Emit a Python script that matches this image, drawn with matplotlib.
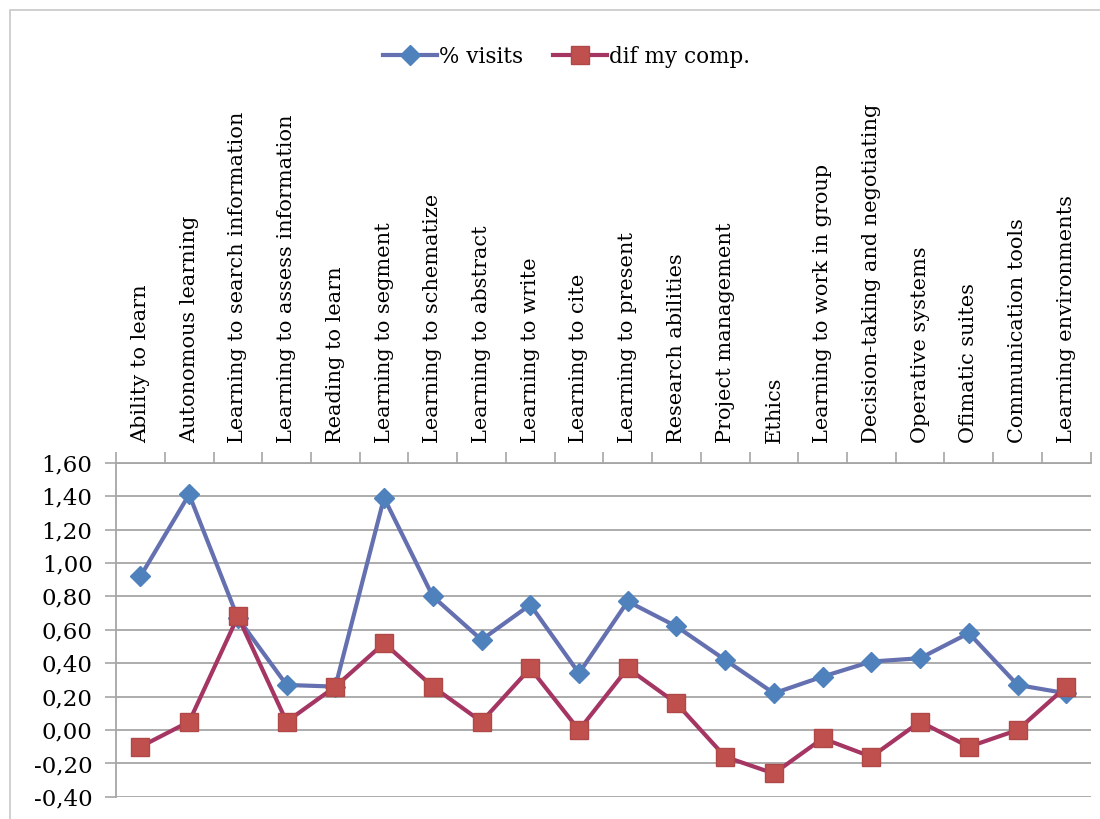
import numpy as np
import matplotlib.pyplot as plt
from matplotlib.ticker import FixedLocator, FuncFormatter
from matplotlib.patches import Rectangle

categories = ['Ability to learn', 'Autonomous learning', 'Learning to search information',
              'Learning to assess information', 'Reading to learn', 'Learning to segment',
              'Learning to schematize', 'Learning to abstract', 'Learning to write',
              'Learning to cite', 'Learning to present', 'Research abilities',
              'Project management', 'Ethics', 'Learning to work in group',
              'Decision-taking and negotiating', 'Operative systems', 'Ofimatic suites',
              'Communication tools', 'Learning environments']
visits = [0.92, 1.41, 0.67, 0.27, 0.26, 1.39, 0.80, 0.54, 0.75, 0.34,
          0.77, 0.62, 0.42, 0.22, 0.32, 0.41, 0.43, 0.58, 0.27, 0.22]
dif_comp = [-0.10, 0.05, 0.68, 0.05, 0.26, 0.52, 0.26, 0.05, 0.37, 0.00,
            0.37, 0.16, -0.16, -0.26, -0.05, -0.16, 0.05, -0.10, 0.00, 0.26]

plt.rcParams['font.family'] = ['DejaVu Serif']

fig = plt.figure(figsize=(11, 8.19), dpi=100)
fig.patches.append(Rectangle((0.009, -0.01), 1.2, 0.998, transform=fig.transFigure,
                             fill=False, edgecolor='#c8c8c8', lw=1.2))
ax = fig.add_axes([0.1055, 0.027, 0.886, 0.408])

x = np.arange(len(categories))
ax.plot(x, visits, color='#6470b0', lw=3, marker='D', ms=10,
        mfc='#4f81bd', mec='#4f81bd', label='% visits', zorder=3)
ax.plot(x, dif_comp, color='#a53563', lw=3, marker='s', ms=13,
        mfc='#c0504d', mec='#b04848', label='dif my comp.', zorder=4)

ax.set_xlim(-0.5, len(categories) - 0.5)
ax.set_ylim(-0.4, 1.6)
ax.set_yticks(np.arange(-0.4, 1.61, 0.2))
ax.yaxis.set_major_formatter(FuncFormatter(lambda v, p: f'{v:.2f}'.replace('.', ',').replace('-0,00', '0,00')))
ax.grid(axis='y', color='#a6a6a6', lw=1.3)
ax.set_axisbelow(True)

ax.xaxis.tick_top()
ax.set_xticks(x)
ax.set_xticklabels(categories, rotation=90, fontsize=15)
ax.xaxis.set_minor_locator(FixedLocator(np.arange(-0.5, len(categories), 1)))
ax.tick_params(axis='x', which='major', length=0, pad=14)
ax.tick_params(axis='x', which='minor', length=8, color='#a6a6a6', width=1.2)
ax.tick_params(axis='y', labelsize=16.5, length=8, color='#a6a6a6', width=1.2, pad=9)

for s in ['right', 'bottom']:
    ax.spines[s].set_visible(False)
for s in ['left', 'top']:
    ax.spines[s].set_color('#a6a6a6')
    ax.spines[s].set_linewidth(1.3)

fig.legend(loc='upper center', bbox_to_anchor=(0.515, 0.968), ncol=2, frameon=False,
           fontsize=15.5, handlelength=2.5, columnspacing=1.4, handletextpad=0.1)

fig.savefig('out.png', dpi=100)
